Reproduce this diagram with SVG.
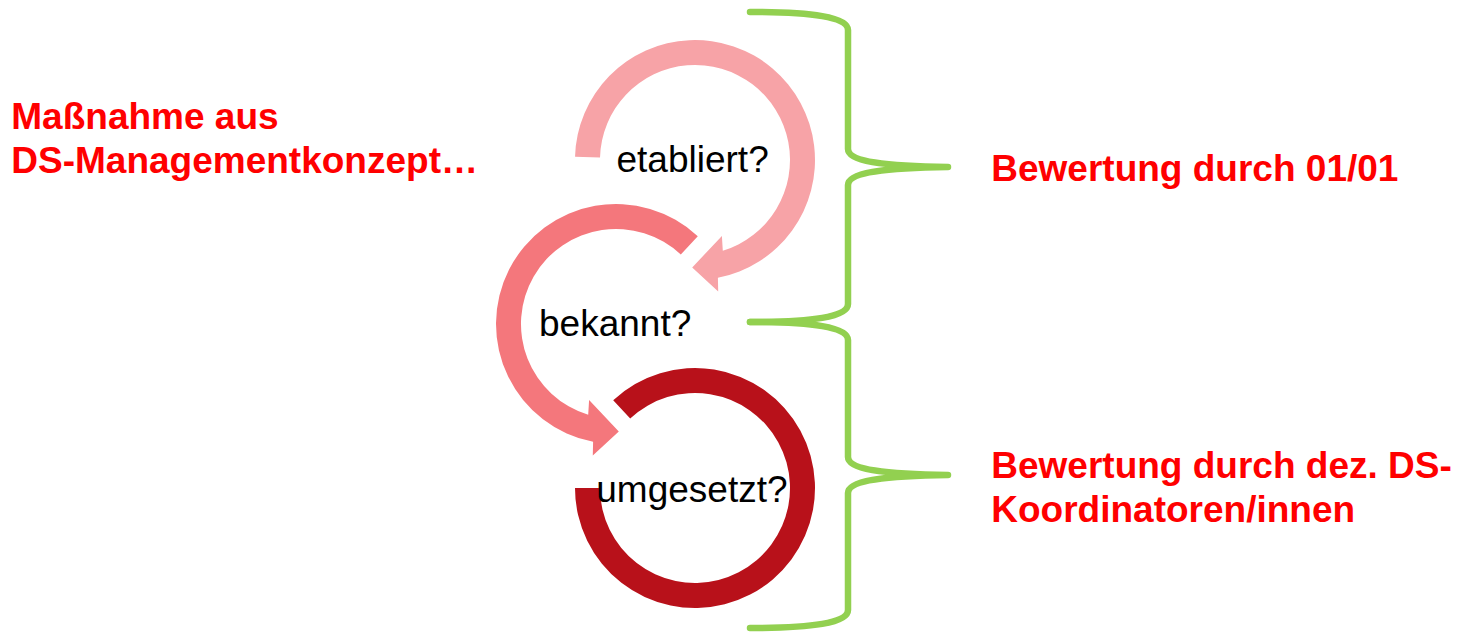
<svg xmlns="http://www.w3.org/2000/svg" width="1459" height="633" viewBox="0 0 1459 633">
<style>
.q{font-family:"Liberation Sans",Arial,sans-serif;font-size:37px;fill:#000}
.r{font-family:"Liberation Sans",Arial,sans-serif;font-size:37px;font-weight:bold;fill:#FF0000}
.brace{fill:none;stroke:#92D050;stroke-width:6.5;stroke-linecap:round;stroke-linejoin:round}
</style>
<rect width="1459" height="633" fill="#FFFFFF"/>
<g id="connectors">
<path class="brace" d="M750,12 C812,12 848,17 848,30 L848,149 C848,161 880,166 948,167 C880,168 848,173 848,185 L848,304 C848,317 812,322 750,322"/>
<path class="brace" d="M750,322 C812,322 848,327 848,340 L848,457 C848,469 880,474 948,475 C880,476 848,481 848,493 L848,610 C848,623 812,628 750,628"/>
</g>
<g id="ring-etabliert">
<path fill="#F7A3A7" d="M575.04,156.86 A120,120 0 1 1 717.9,277.8 L718.2,291.6 L692.2,267.5 L721.9,235.9 L722.8,250.8 A95,95 0 1 0 600.03,157.51 Z"/>
<text class="q" x="616.5" y="172">etabliert?</text>
</g>
<g id="ring-bekannt">
<path fill="#F4777C" d="M697.8,236.2 A120,120 0 1 0 593.1,441.8 L592.8,455.6 L618.8,431.5 L589.1,399.9 L588.2,414.8 A95,95 0 1 1 680.8,254.5 Z"/>
<text class="q" x="539" y="336">bekannt?</text>
</g>
<g id="ring-umgesetzt">
<path fill="#B8111A" d="M613.2,400.2 A120,120 0 1 1 575,488 L600,488 A95,95 0 1 0 630.2,418.5 Z"/>
<text class="q" x="596.3" y="501.7">umgesetzt?</text>
</g>
<g id="label-massnahme">
<text class="r" x="11.3" y="129.3">Maßnahme aus</text>
<text class="r" x="11.3" y="172.7">DS-Managementkonzept…</text>
</g>
<g id="label-bewertung-0101">
<text class="r" x="991.3" y="181">Bewertung durch 01/01</text>
</g>
<g id="label-bewertung-dez">
<text class="r" x="991.3" y="478.3">Bewertung durch dez. DS-</text>
<text class="r" x="991.3" y="521.7">Koordinatoren/innen</text>
</g>
</svg>
